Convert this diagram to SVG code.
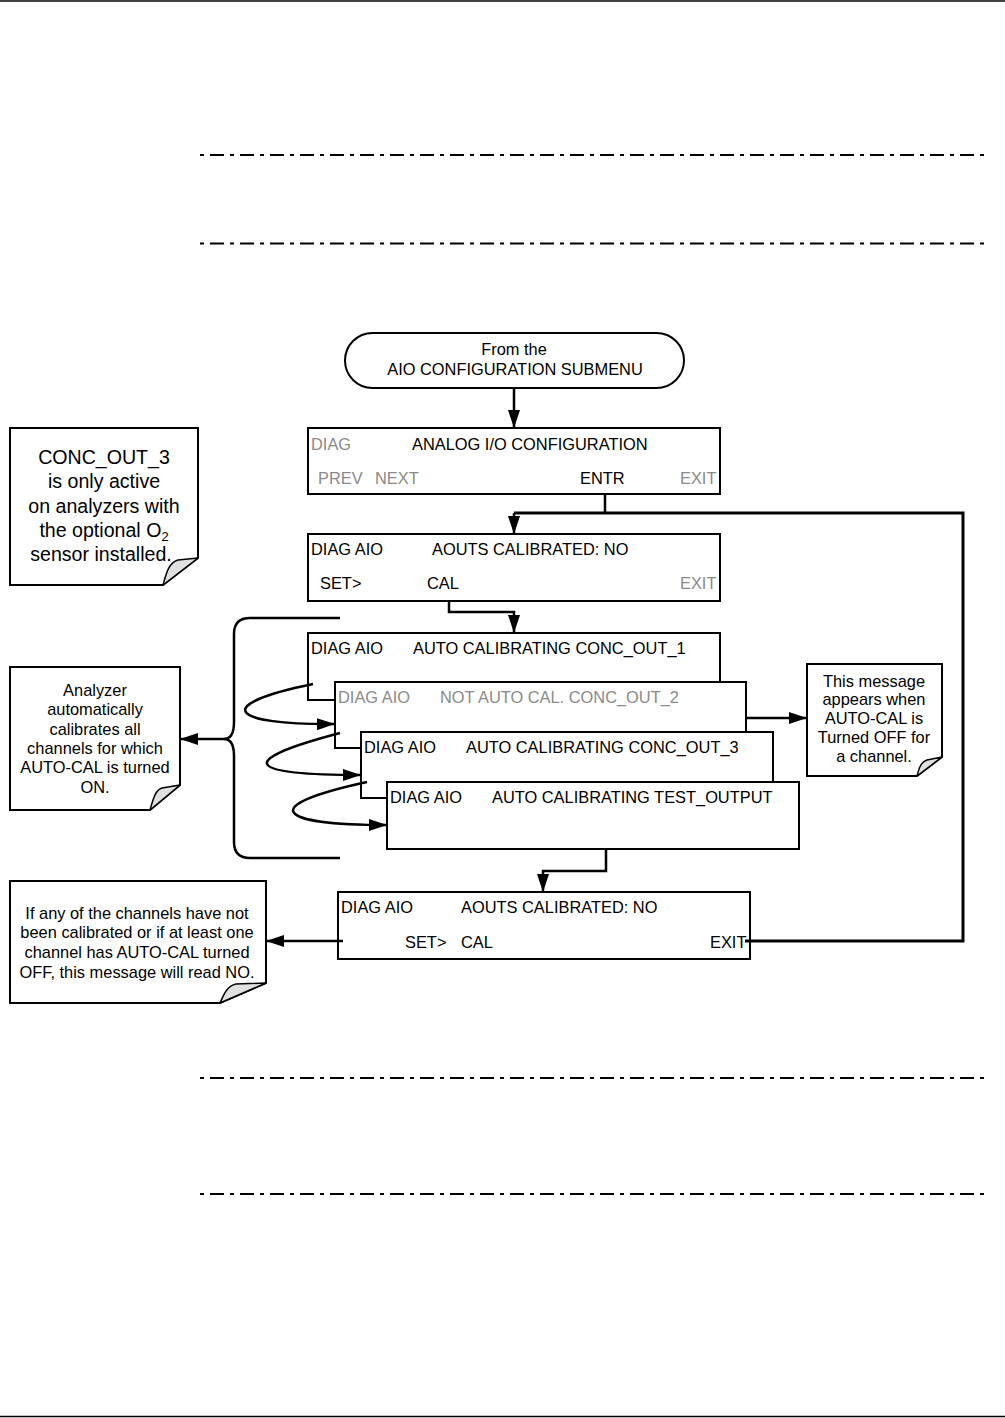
<svg xmlns="http://www.w3.org/2000/svg" width="1005" height="1418" viewBox="0 0 1005 1418">
<style>
text{font-family:"Liberation Sans",Arial,sans-serif;font-size:16.4px;fill:#000}
.g{fill:#8a8a8a}
.n{font-size:19.6px}
.c{text-anchor:middle}
.box{fill:#fff;stroke:#000;stroke-width:2}
.note{fill:#fff;stroke:#000;stroke-width:2}
.flap{fill:#e0e0e0;stroke:#000;stroke-width:1.5;stroke-linejoin:round}
.ln{fill:none;stroke:#000;stroke-width:2.5}
.thk{fill:none;stroke:#000;stroke-width:3}
.dash{stroke:#000;stroke-width:2;stroke-dasharray:4 6 14 6}
</style>
<defs>
<marker id="ah" viewBox="0 0 18 12" refX="18" refY="6" markerWidth="18" markerHeight="12" markerUnits="userSpaceOnUse" orient="auto">
<path d="M0,0 L18,6 L0,12 Z" fill="#000"/>
</marker>
</defs>
<rect width="1005" height="1418" fill="#fff"/>
<g id="page">
<line x1="0" y1="1" x2="1005" y2="1" stroke="#000" stroke-width="1.5"/>
<line x1="0" y1="1416.5" x2="1005" y2="1416.5" stroke="#000" stroke-width="1.5"/>
<line class="dash" x1="200" y1="155" x2="990" y2="155"/>
<line class="dash" x1="200" y1="243.5" x2="990" y2="243.5"/>
<line class="dash" x1="200" y1="1078" x2="990" y2="1078"/>
<line class="dash" x1="200" y1="1194" x2="990" y2="1194"/>
</g>
<g id="start">
<rect x="345" y="333" width="339" height="55" rx="27.5" fill="#fff" stroke="#000" stroke-width="2"/>
<text x="514" y="355" class="c">From the</text>
<text x="515" y="375" class="c">AIO CONFIGURATION SUBMENU</text>
</g>
<g id="box-analog-io">
<rect class="box" x="308" y="428" width="412" height="66"/>
<text x="311" y="450" class="g">DIAG</text>
<text x="412" y="450">ANALOG I/O CONFIGURATION</text>
<text x="318" y="484" class="g">PREV</text>
<text x="375" y="484" class="g">NEXT</text>
<text x="580" y="484">ENTR</text>
<text x="680" y="484" class="g">EXIT</text>
</g>
<g id="box-aouts-1">
<rect class="box" x="308" y="534" width="412" height="67"/>
<text x="311" y="555">DIAG AIO</text>
<text x="432" y="555">AOUTS CALIBRATED: NO</text>
<text x="320" y="589">SET&gt;</text>
<text x="427" y="589">CAL</text>
<text x="680" y="589" class="g">EXIT</text>
</g>
<g id="box-conc1">
<rect class="box" x="308" y="633" width="412" height="67"/>
<text x="311" y="654">DIAG AIO</text>
<text x="413" y="654">AUTO CALIBRATING CONC_OUT_1</text>
</g>
<g id="box-conc2">
<rect class="box" x="335" y="682" width="411" height="66"/>
<text x="338" y="703" class="g">DIAG AIO</text>
<text x="440" y="703" class="g">NOT AUTO CAL. CONC_OUT_2</text>
</g>
<g id="box-conc3">
<rect class="box" x="361" y="732" width="412" height="66"/>
<text x="364" y="753">DIAG AIO</text>
<text x="466" y="753">AUTO CALIBRATING CONC_OUT_3</text>
</g>
<g id="box-test">
<rect class="box" x="387" y="782" width="412" height="67"/>
<text x="390" y="803">DIAG AIO</text>
<text x="492" y="803">AUTO CALIBRATING TEST_OUTPUT</text>
</g>
<g id="box-aouts-2">
<rect class="box" x="338" y="892" width="412" height="67"/>
<text x="341" y="913">DIAG AIO</text>
<text x="461" y="913">AOUTS CALIBRATED: NO</text>
<text x="405" y="948">SET&gt;</text>
<text x="461" y="948">CAL</text>
<text x="710" y="948">EXIT</text>
</g>
<g id="note-conc3">
<path class="note" d="M10,428 H198 V558 L163,585 H10 Z"/>
<path class="flap" d="M163,585 C166,575 168,563 178,560 L198,558 Z"/>
<text x="104" y="464" class="n c">CONC_OUT_3</text>
<text x="104" y="488" class="n c">is only active</text>
<text x="104" y="513" class="n c">on analyzers with</text>
<text x="104" y="537" class="n c">the optional O<tspan font-size="13" dy="4">2</tspan></text>
<text x="101" y="561" class="n c">sensor installed.</text>
</g>
<g id="note-analyzer">
<path class="note" d="M10,667 H180 V785 L150,810 H10 Z"/>
<path class="flap" d="M150,810 C153,800 155,790 162,788 L180,785 Z"/>
<text x="95" y="696" class="c">Analyzer</text>
<text x="95" y="715.3" class="c">automatically</text>
<text x="95" y="734.6" class="c">calibrates all</text>
<text x="95" y="754" class="c">channels for which</text>
<text x="95" y="773.3" class="c">AUTO-CAL is turned</text>
<text x="95" y="792.6" class="c">ON.</text>
</g>
<g id="note-message">
<path class="note" d="M807,664 H942 V757 L917,776 H807 Z"/>
<path class="flap" d="M917,776 C919,768 921,762 927,760 L942,757 Z"/>
<text x="874" y="686.5" class="c">This message</text>
<text x="874" y="705.3" class="c">appears when</text>
<text x="874" y="724.1" class="c">AUTO-CAL is</text>
<text x="874" y="742.9" class="c">Turned OFF for</text>
<text x="874" y="761.7" class="c">a channel.</text>
</g>
<g id="note-read-no">
<path class="note" d="M10,881 H266 V983 L220,1003 H10 Z"/>
<path class="flap" d="M220,1003 C224,994 227,986 236,984 L266,983 Z"/>
<text x="137" y="918.5" class="c">If any of the channels have not</text>
<text x="137" y="938.2" class="c">been calibrated or if at least one</text>
<text x="137" y="957.9" class="c">channel has AUTO-CAL turned</text>
<text x="137" y="977.6" class="c">OFF, this message will read NO.</text>
</g>
<g id="connectors">
<path class="ln" d="M514,388 V428" marker-end="url(#ah)"/>
<path class="ln" d="M605,494 V513"/>
<path class="thk" d="M745,941 H963 V513 H514"/>
<path class="ln" d="M514,513 V534" marker-end="url(#ah)"/>
<path class="ln" d="M449,601 V612 H514 V633" marker-end="url(#ah)"/>
<path class="ln" d="M313,684 C210,705 230,725 335,724" marker-end="url(#ah)"/>
<path class="ln" d="M340,733 C230,762 250,775 361,775" marker-end="url(#ah)"/>
<path class="ln" d="M367,782 C256,806 276,825 387,825" marker-end="url(#ah)"/>
<path class="ln" d="M340,618 H250 Q234,618 234,634 V722 Q234,739 224,739 Q234,739 234,756 V842 Q234,858 250,858 H340"/>
<path class="ln" d="M226,739 H180" marker-end="url(#ah)"/>
<path class="ln" d="M746,718 H807" marker-end="url(#ah)"/>
<path class="ln" d="M606,849 V871 H543 V892" marker-end="url(#ah)"/>
<path class="ln" d="M343,941 H266" marker-end="url(#ah)"/>
</g>
</svg>
